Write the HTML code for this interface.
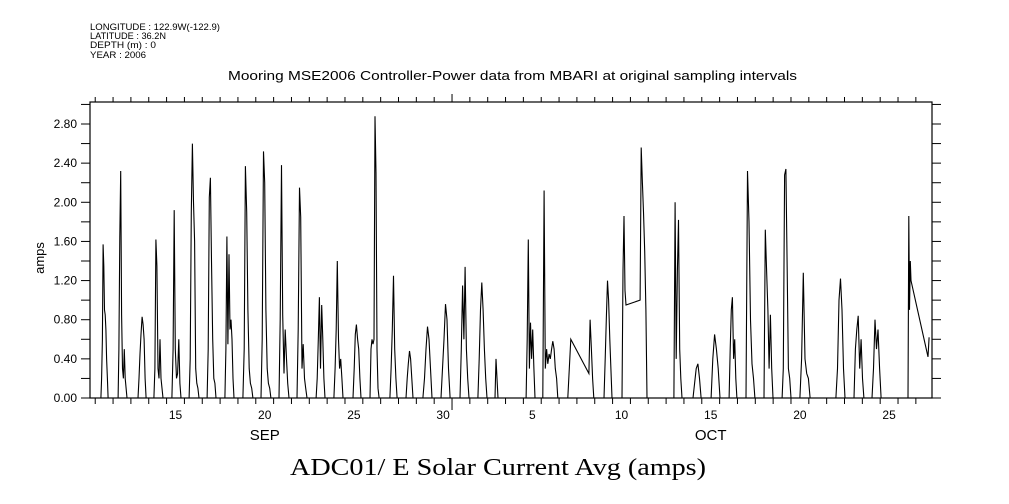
<!DOCTYPE html>
<html><head><meta charset="utf-8"><style>
html,body{margin:0;padding:0;background:#fff;}
svg{display:block;font-family:"Liberation Sans",sans-serif;}
</style></head><body>
<svg id="chart" width="1009" height="504" viewBox="0 0 1009 504" xmlns="http://www.w3.org/2000/svg">
<g font-size="9.5" fill="#000">
<text x="90" y="30" textLength="130" lengthAdjust="spacingAndGlyphs">LONGITUDE : 122.9W(-122.9)</text>
<text x="90" y="39" textLength="76" lengthAdjust="spacingAndGlyphs">LATITUDE : 36.2N</text>
<text x="90" y="48" textLength="66" lengthAdjust="spacingAndGlyphs">DEPTH (m) : 0</text>
<text x="90" y="58" textLength="56" lengthAdjust="spacingAndGlyphs">YEAR : 2006</text>
</g>
<text x="228" y="80" textLength="569" lengthAdjust="spacingAndGlyphs" font-size="13">Mooring MSE2006 Controller-Power data from MBARI at original sampling intervals</text>
<text transform="translate(44,258) rotate(-90)" text-anchor="middle" font-size="13">amps</text>
<text x="290" y="475" textLength="416" lengthAdjust="spacingAndGlyphs" font-size="24" font-family="'Liberation Serif',serif">ADC01/ E Solar Current Avg (amps)</text>
<g id="axes"></g>
<g id="series"></g>
</svg>
<script>
// Y axis
const yTickValues = [0,0.2,0.4,0.6,0.8,1.0,1.2,1.4,1.6,1.8,2.0,2.2,2.4,2.6,2.8,3.0];
const yLabelValues = [0,0.4,0.8,1.2,1.6,2.0,2.4,2.8];
// X axis (t = days since Sep 1 00:00)
const dayLabelT = [14.5,19.5,24.5,29.5,34.5,39.5,44.5,49.5,54.5];
const dayLabels = ["15","20","25","30","5","10","15","20","25"];
const monthLabelT = [19.5,44.5];
const monthLabels = ["SEP","OCT"];
const monthBoundT = [30];
// Data blocks: rise time, set time, evenly spaced values
const blockStart = [10.32,11.28,12.40,13.29,14.30,15.26,16.27,17.27,18.28,19.29,20.30,21.31,22.38,23.38,24.45,25.40,26.52,27.42,28.37,29.38,30.45,31.45,32.41,34.15,35.09,36.49,37.67,38.52,39.53,40.54,42.44,43.51,44.52,45.53,46.48,47.49,48.5,49.5,51.52,52.53,53.54,55.56,56.68];
const blockEnd = [10.72,11.78,12.85,13.80,14.81,15.82,16.77,17.78,18.84,19.85,20.86,21.87,22.88,23.89,24.90,25.91,26.92,27.81,28.88,29.89,30.95,31.96,32.58,34.65,35.93,36.66,37.95,38.97,39.75,40.93,42.89,43.96,45.02,45.97,46.98,47.99,49.0,50.07,52.03,53.09,54.05,55.73,56.74];
const blockValues = [
[0,0.2,0.6,1.57,1.35,0.9,0.85,0.7,0.4,0.2,0],
[0,0.5,1.65,2.32,0.85,0.3,0.2,0.5,0.2,0.1,0],
[0,0.2,0.45,0.65,0.83,0.75,0.6,0.2,0],
[0,0.3,1.62,1.35,0.3,0.2,0.6,0.2,0.1,0],
[0,0.5,1.92,0.5,0.2,0.25,0.6,0.15,0],
[0,0.4,1.9,2.60,2.0,1.6,0.3,0.15,0.1,0],
[0,0.5,2.05,2.25,1.4,0.6,0.2,0.15,0],
[0,0.5,1.65,0.55,1.47,0.7,0.8,0.6,0.2,0],
[0,0.5,2.37,1.9,0.9,0.3,0.15,0.1,0],
[0,0.6,2.52,2.2,0.9,0.3,0.15,0.1,0],
[0,0.8,2.38,0.85,0.25,0.7,0.4,0.15,0],
[0,0.7,2.15,1.85,0.3,0.55,0.2,0.1,0],
[0,0.2,0.6,1.03,0.3,0.95,0.6,0.2,0],
[0,0.3,0.7,1.40,0.6,0.3,0.4,0.2,0],
[0,0.3,0.65,0.75,0.6,0.5,0.2,0],
[0,0.5,0.6,0.55,0.6,2.88,2.3,0.5,0.1,0],
[0,0.3,0.7,1.25,0.5,0.2,0],
[0,0.2,0.35,0.48,0.4,0.2,0],
[0,0.2,0.5,0.73,0.6,0.3,0],
[0,0.3,0.6,0.96,0.8,0.3,0],
[0,0.5,1.15,0.6,1.34,0.5,0.2,0],
[0,0.4,0.9,1.18,0.9,0.5,0.2,0],
[0,0.40,0.2,0],
[0,0.6,1.62,0.3,0.77,0.4,0.7,0.3,0],
[0,2.12,0.3,0.5,0.35,0.45,0.4,0.5,0.58,0.5,0.3,0.2,0],
[0,0.3,0.6],
[0.25,0.8,0.5,0.2,0],
[0,0.4,0.8,1.2,1.0,0.6,0.3,0],
[0,1.3,1.86,1.1,0.95],
[1.0,2.56,2.2,1.9,1.5,0.9,0],
[0,2.0,0.4,1.3,1.82,0.5,0.2,0],
[0,0.15,0.3,0.35,0.2,0],
[0,0.4,0.65,0.5,0.3,0],
[0,0.5,0.9,1.03,0.4,0.6,0.2,0],
[0,2.32,1.8,0.8,0.35,0.2,0],
[0,1.72,1.3,0.9,0.3,0.85,0.3,0],
[0,0.3,2.28,2.34,1.3,0.3,0.2,0],
[0,0.4,1.28,0.4,0.25,0.2,0],
[0,0.3,1.0,1.22,0.9,0.3,0],
[0,0.5,0.7,0.84,0.3,0.6,0.2,0],
[0,0.3,0.8,0.5,0.7,0.3,0],
[0,1.86,0.9,1.4,1.2],
[0.42,0.62]
];

const L=90,R=932,T=102,B=398;
const tRef=14.5, xRef=175.5, pxPerDay=17.84;
const xS = t => xRef + (t - tRef) * pxPerDay;
const yS = v => B - v * (B - 124) / 2.8;
const tMin = tRef - (xRef - L) / pxPerDay, tMax = tRef + (R - xRef) / pxPerDay;
const NS="http://www.w3.org/2000/svg";
function mk(tag, attrs, parent){const e=document.createElementNS(NS,tag);for(const k in attrs)e.setAttribute(k,attrs[k]);parent.appendChild(e);return e;}
const axes=document.getElementById('axes');
const series=document.getElementById('series');

const frame=mk('rect',{x:L,y:T,width:R-L,height:B-T,fill:'none',stroke:'#000','stroke-width':1.2},axes);



yTickValues.forEach(v=>{
  const y=yS(v); if(y<T-0.5) return;
  const a=mk('line',{x1:L-9,x2:L,y1:y,y2:y,stroke:'#000','stroke-width':1},axes);
  
  
  const b=mk('line',{x1:R,x2:R+9,y1:y,y2:y,stroke:'#000','stroke-width':1},axes);
  
  
});
yLabelValues.forEach(v=>{
  const t=mk('text',{x:L-13,y:yS(v)+4,'text-anchor':'end','font-size':12},axes);
  t.textContent=v.toFixed(2);
  
  
});
for(let d=Math.ceil(tMin); d<=tMax; d++){
  const x=xS(d), big=monthBoundT.includes(d);
  const a=mk('line',{x1:x,x2:x,y1:B,y2:B+(big?12:6),stroke:'#000','stroke-width':1},axes);
  
  
  const b=mk('line',{x1:x,x2:x,y1:T,y2:T-(big?8:5),stroke:'#000','stroke-width':1},axes);
  
  
}
dayLabelT.forEach((t,i)=>{
  const e=mk('text',{x:xS(t),y:419,'text-anchor':'middle','font-size':12},axes);
  e.textContent=dayLabels[i];
  
  
});
monthLabelT.forEach((t,i)=>{
  const e=mk('text',{x:xS(t),y:440,'text-anchor':'middle','font-size':15},axes);
  e.textContent=monthLabels[i];
  
  
});

const pts=[];
blockStart.forEach((s,i)=>{
  const vals=blockValues[i], e=blockEnd[i], n=vals.length;
  vals.forEach((v,j)=>{
    const t = n>1 ? s + (e - s) * j / (n - 1) : s;
    pts.push([xS(t), yS(v)]);
  });
});
const line=mk('polyline',{points:pts.map(p=>p[0].toFixed(1)+','+p[1].toFixed(1)).join(' '),fill:'none',stroke:'#000','stroke-width':1.1},series);


</script>
</body></html>
